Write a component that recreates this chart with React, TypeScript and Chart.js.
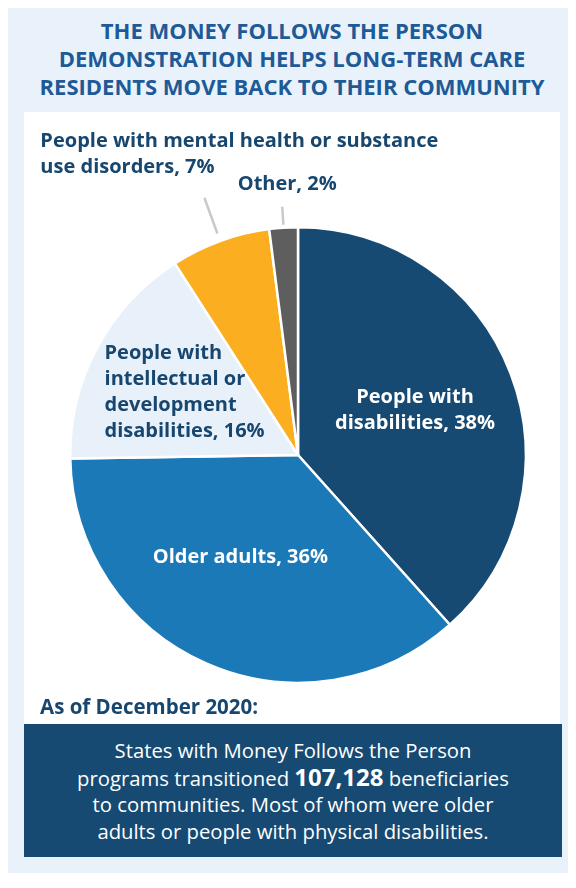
import React, { useEffect, useRef } from "react";
import { Chart, registerables } from "chart.js";

Chart.register(...registerables);

// ---- data ----
const categories: string[][] = [
  ["People with", "disabilities"],
  ["Older adults"],
  ["People with", "intellectual or", "development", "disabilities"],
  ["People with mental health or substance", "use disorders"],
  ["Other"],
];
const shares: number[] = [38, 36, 16, 7, 2];
const sliceColors: string[] = ["#164A72", "#1C79B8", "#E8F1FA", "#FBAE1F", "#5E5E5E"];

const titleLines: string[] = [
  "THE MONEY FOLLOWS THE PERSON",
  "DEMONSTRATION HELPS LONG-TERM CARE",
  "RESIDENTS MOVE BACK TO THEIR COMMUNITY",
];
const asOfText = "As of December 2020:";
const beneficiaries = "107,128";

// ---- label styling (positions relative to each slice) ----
const NAVY = "#17466E";
const FONT = "'Open Sans', Lato, sans-serif";
type LabelStyle = {
  mode: "inside" | "outside";
  color: string;
  align: "center" | "left";
  r?: number;
  dx: number;
  dy: number;
  lineFrom?: number;
  lineTo?: number;
};
const labelStyles: LabelStyle[] = [
  { mode: "inside", color: "#FFFFFF", align: "center", r: 0.55, dx: 0, dy: 0 },
  { mode: "inside", color: "#FFFFFF", align: "center", r: 0.5, dx: -12, dy: -2 },
  { mode: "inside", color: NAVY, align: "left", r: 0.6, dx: -73, dy: 2 },
  { mode: "outside", color: NAVY, align: "left", lineFrom: 8, lineTo: 46, dx: -164, dy: -30 },
  { mode: "outside", color: NAVY, align: "center", lineFrom: 3, lineTo: 21, dx: 5, dy: -22 },
];

const labelPlugin = {
  id: "sliceLabels",
  afterDatasetsDraw(chart: any) {
    const ctx: CanvasRenderingContext2D = chart.ctx;
    const meta = chart.getDatasetMeta(0);
    const lh = 26;
    ctx.save();
    ctx.font = `bold 20px ${FONT}`;
    ctx.textBaseline = "middle";
    meta.data.forEach((arc: any, i: number) => {
      const p = arc.getProps(["x", "y", "startAngle", "endAngle", "outerRadius"], true);
      const mid = (p.startAngle + p.endAngle) / 2;
      const cos = Math.cos(mid);
      const sin = Math.sin(mid);
      const st = labelStyles[i];
      const lines = categories[i].slice();
      lines[lines.length - 1] = `${lines[lines.length - 1]}, ${shares[i]}%`;
      ctx.fillStyle = st.color;
      ctx.textAlign = st.align;
      if (st.mode === "inside") {
        const cx = p.x + cos * p.outerRadius * (st.r || 0.5) + st.dx;
        const cy = p.y + sin * p.outerRadius * (st.r || 0.5) + st.dy;
        const top = cy - ((lines.length - 1) * lh) / 2;
        lines.forEach((t, k) => ctx.fillText(t, cx, top + k * lh));
      } else {
        const r1 = p.outerRadius + (st.lineFrom || 0);
        const r2 = p.outerRadius + (st.lineTo || 0);
        const ex = p.x + cos * r2;
        const ey = p.y + sin * r2;
        ctx.strokeStyle = "#C9C9C9";
        ctx.lineWidth = 2.5;
        ctx.beginPath();
        ctx.moveTo(p.x + cos * r1, p.y + sin * r1);
        ctx.lineTo(ex, ey);
        ctx.stroke();
        const bx = ex + st.dx;
        const lastY = ey + st.dy;
        lines.forEach((t, k) => ctx.fillText(t, bx, lastY - (lines.length - 1 - k) * lh));
      }
    });
    ctx.restore();
  },
};

function PieChart() {
  const ref = useRef<HTMLCanvasElement | null>(null);
  useEffect(() => {
    if (!ref.current) return;
    const chart = new Chart(ref.current, {
      type: "pie",
      data: {
        labels: categories.map((c) => c.join(" ")),
        datasets: [
          {
            data: shares,
            backgroundColor: sliceColors,
            borderColor: "#FFFFFF",
            borderWidth: 2.5,
          },
        ],
      },
      options: {
        responsive: false,
        animation: false,
        layout: { padding: { left: 45, right: 33, top: 114, bottom: 40 } },
        plugins: {
          legend: { display: false },
          tooltip: { enabled: false },
          title: { display: false },
        },
      },
      plugins: [labelPlugin],
    } as any);
    return () => chart.destroy();
  }, []);
  return <canvas ref={ref} width={536} height={612} style={{ display: "block" }} />;
}

export default function App() {
  return (
    <div
      style={{
        position: "relative",
        width: 568,
        height: 866,
        marginTop: -1,
        background: "#E9F2FA",
        fontFamily: FONT,
      }}
    >
      <div
        style={{
          position: "absolute",
          left: 0,
          top: 9,
          width: 568,
          textAlign: "center",
          color: "#1E5A97",
          fontWeight: 700,
          fontSize: 22,
          lineHeight: "28px",
        }}
      >
        {titleLines.map((t) => (
          <div key={t}>{t}</div>
        ))}
      </div>
      <div
        style={{
          position: "absolute",
          left: 16,
          top: 105,
          width: 536,
          height: 612,
          background: "#FFFFFF",
        }}
      >
        <PieChart />
        <div
          style={{
            position: "absolute",
            left: 16,
            top: 582,
            color: NAVY,
            fontWeight: 700,
            fontSize: 20.5,
            lineHeight: "24px",
          }}
        >
          {asOfText}
        </div>
      </div>
      <div
        style={{
          position: "absolute",
          left: 16,
          top: 717,
          width: 538,
          height: 133,
          background: "#164A72",
          color: "#FFFFFF",
          textAlign: "center",
          fontSize: 20.3,
          lineHeight: "26.5px",
          paddingTop: 13,
          boxSizing: "border-box",
        }}
      >
        <div>States with Money Follows the Person</div>
        <div>
          programs transitioned{" "}
          <span style={{ fontWeight: 700, fontSize: 24 }}>{beneficiaries}</span> beneficiaries
        </div>
        <div>to communities. Most of whom were older</div>
        <div>adults or people with physical disabilities.</div>
      </div>
      <div
        style={{
          position: "absolute",
          left: 0,
          top: 866,
          width: 568,
          height: 14,
          background: "#1C79B8",
        }}
      />
    </div>
  );
}
